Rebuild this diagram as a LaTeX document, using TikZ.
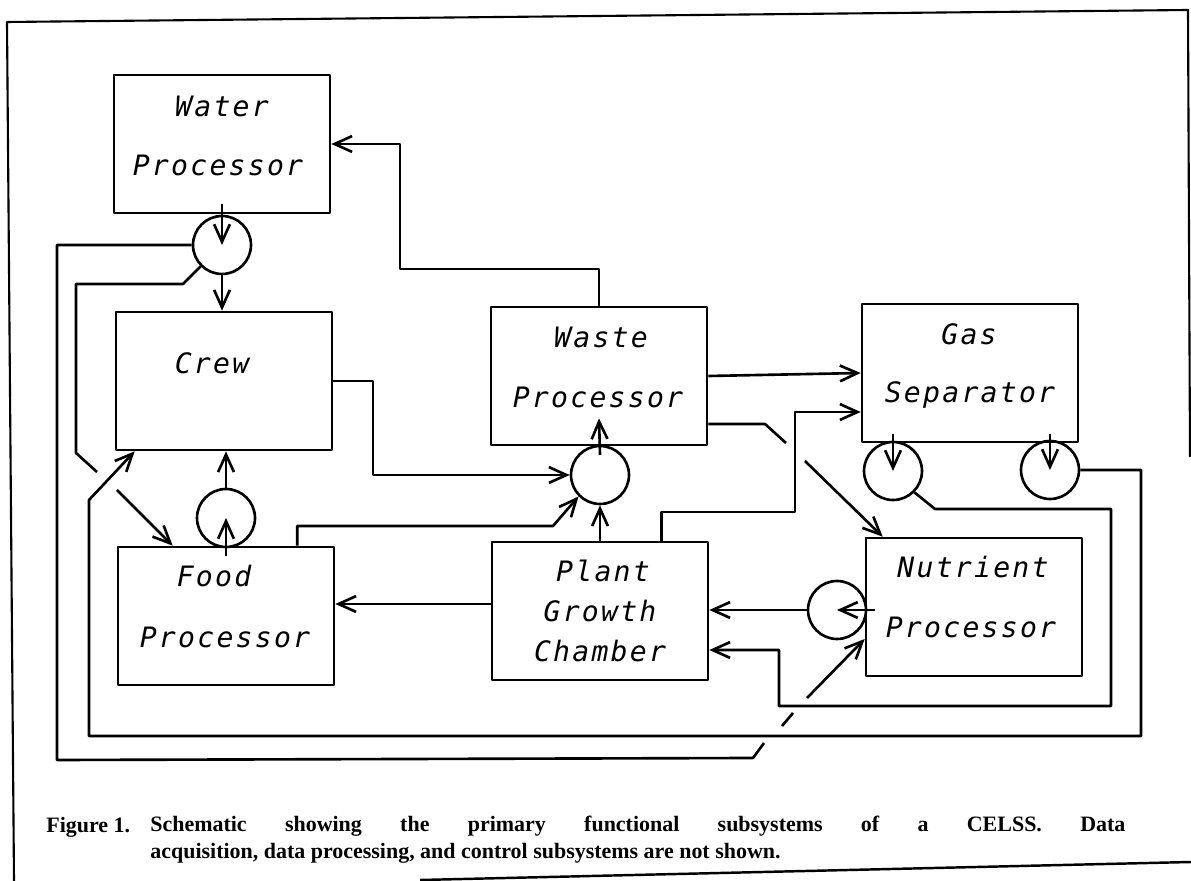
\documentclass[tikz,border=0pt]{standalone}
\usepackage{fontspec}
\usepackage{tikz}
\usetikzlibrary{arrows.meta,calc}
\newfontfamily\plotfont{DejaVu Sans Mono}[LetterSpace=8]
\newfontfamily\capfont{Liberation Serif}

\begin{document}
\begin{tikzpicture}[x=0.02cm, y=-0.02cm, line join=round,
    box/.style={draw, line width=1.5pt, minimum width=4.32cm, minimum height=2.76cm, inner sep=0pt},
    pump/.style={draw, circle, line width=1.5pt, minimum size=1.16cm, inner sep=0pt},
    lbl/.style={anchor=base, inner sep=0pt, font=\plotfont\itshape\fontsize{16}{16}\selectfont},
    captxt/.style={anchor=base west, inner sep=0pt, font=\capfont\bfseries\fontsize{12.5}{15}\selectfont},
    pipe/.style={line width=1.5pt},
    arr/.style={line width=1.5pt, -{Straight Barb[length=10pt,width=9pt]}}]
    \useasboundingbox (0,0) rectangle (1191,881);

    % frame
    \draw[line width=1.2pt] (14,881) -- (7,22) -- (1188,10) -- (1190,457);
    \draw[line width=1.4pt] (420,880) -- (1191,862);

    % subsystems
    \node[box] (water) at (222,144) {};
    \node[box] (crew) at (224,381) {};
    \node[box] (food) at (226,616) {};
    \node[box] (waste) at (599,376) {};
    \node[box] (plant) at (600,611) {};
    \node[box] (gas) at (970,373) {};
    \node[box] (nutr) at (974,607) {};

    \node[lbl] (waterA) at (222,117) {Water};
    \node[lbl] (waterB) at (218,176) {Processor};
    \node[lbl] (crewA) at (212,374) {Crew};
    \node[lbl] (foodA) at (214,587) {Food};
    \node[lbl] (foodB) at (225,648) {Processor};
    \node[lbl] (wasteA) at (601,348) {Waste};
    \node[lbl] (wasteB) at (598,408) {Processor};
    \node[lbl] (gasA) at (969,345) {Gas};
    \node[lbl] (gasB) at (970,403) {Separator};
    \node[lbl] (plantA) at (603,582) {Plant};
    \node[lbl] (plantB) at (600,622) {Growth};
    \node[lbl] (plantC) at (600,662) {Chamber};
    \node[lbl] (nutrA) at (973,578) {Nutrient};
    \node[lbl] (nutrB) at (971,638) {Processor};

    % pumps
    \node[pump] (cw) at (222,245) {};
    \node[pump] (cf) at (226,518) {};
    \node[pump] (cc) at (600,475) {};
    \node[pump] (cg1) at (893,471) {};
    \node[pump] (cg2) at (1050,470) {};
    \node[pump] (cn) at (837,610) {};

    % water loop
    \draw[arr] ($(water.south)+(0,-10)$) -- (cw.center);
    \draw[arr] (cw.south) -- (cw.south |- crew.north);
    \draw[arr] (waste.north) |- (400,269) |- (water.east);
    \draw[pipe] (cw.west) -| (57,760) -- (753,758) -- (764,743);
    \draw[pipe] (782,726) -- (793,713);
    \draw[arr] (807,698) -- ($(nutr.west)+(0,32)$);
    \draw[pipe] (cw.225) -- (183,284) -| (76,453) -- (97,472);
    \draw[arr] (117,490) -- ($(food.north west)+(56,0)$);

    % into the waste processor
    \draw[arr] (crew.east) -| (373,475) -- (cc.west);
    \draw[arr] ($(food.north east)+(-38,0)$) |- (553,526) -- (cc.225);
    \draw[arr] (plant.north) -- (cc.south);
    \draw[arr] ($(cc.center)+(0,-20)$) -- ($(waste.south)+(0,-28)$);

    % out of the waste processor
    \draw[arr] (waste.east) -- (gas.west);
    \draw[pipe] ($(waste.east)+(0,48)$) -- (765,424) -- (786,443);
    \draw[arr] (805,461) -- ($(nutr.north west)+(18,0)$);
    \draw[arr] ($(plant.north east)+(-48,0)$) |- (795,512) |- ($(gas.west)+(0,39)$);

    % gas loop
    \draw[arr] ($(cg1 |- gas.south)+(0,-9)$) -- (cg1.center);
    \draw[arr] ($(cg2 |- gas.south)+(0,-9)$) -- (cg2.center);
    \draw[arr] (cg1.-45) -- (935,509) -| (1111,706) -| (779,650) -- ($(plant.east)+(0,39)$);
    \draw[arr] (cg2.east) -| (1141,736) -| (89,500) -- ($(crew.south west)+(20,0)$);

    % nutrients and food
    \draw[arr] ($(cn.center -| nutr.west)+(10,0)$) -- (cn.center);
    \draw[arr] (cn.west) -- (cn.west -| plant.east);
    \draw[arr] ($(plant.west)+(0,-7)$) -- ($(food.east)+(0,-12)$);
    \draw[arr] ($(food.north)+(0,10)$) -- (cf.center);
    \draw[arr] (cf.north) -- (cf.north |- crew.south);

    % caption
    \node[captxt] (capA) at (46,833) {Figure 1.};
    \node[captxt] (capB) at (150,832) {\makebox[555pt][s]{Schematic showing the primary functional subsystems of a CELSS. Data}};
    \node[captxt] (capC) at (150,859) {acquisition, data processing, and control subsystems are not shown.};
\end{tikzpicture}
\end{document}
